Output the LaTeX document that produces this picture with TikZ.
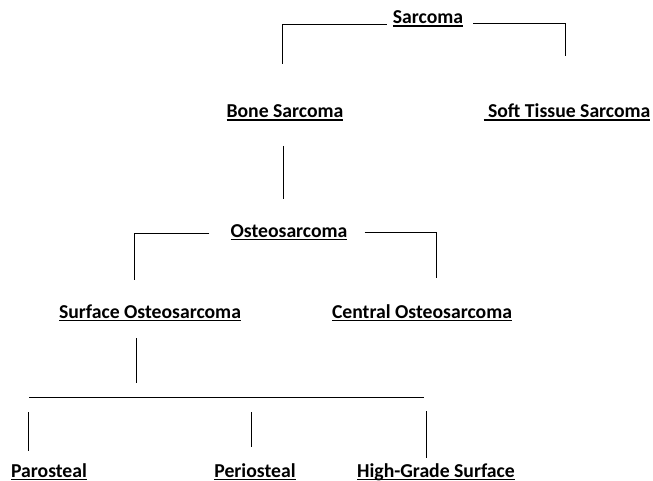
\documentclass[tikz,border=0pt]{standalone}
\usepackage{fontspec}
\setmainfont{Carlito}
\newcommand{\ulbox}[1]{\setbox0\hbox{#1}\rlap{\rule[-3pt]{\wd0}{1.5pt}}\box0}
\tikzset{
	lbl/.style={anchor=base, inner sep=0pt, font=\fontsize{19.7}{23}\selectfont\bfseries},
	link/.style={line width=0.8pt}
}
\begin{document}
\begin{tikzpicture}[x=1pt, y=-1pt]
	\useasboundingbox (0,0) rectangle (653,481);
	
	% --- labels ---
	\node[lbl] (sarc) at (428,24) {\ulbox{Sarcoma}};
	\node[lbl] (bone) at (285,118) {\ulbox{Bone Sarcoma}};
	\node[lbl] (soft) at (567,118) {\ulbox{\ Soft Tissue Sarcoma}};
	\node[lbl] (osteo) at (289,237) {\ulbox{Osteosarcoma}};
	\node[lbl] (surf) at (150,318) {\ulbox{Surface Osteosarcoma}};
	\node[lbl] (cent) at (422,318) {\ulbox{Central Osteosarcoma}};
	\node[lbl] (paro) at (49,477) {\ulbox{Parosteal}};
	\node[lbl] (peri) at (255,477) {\ulbox{Periosteal}};
	\node[lbl] (high) at (436,477) {\ulbox{High-Grade Surface}};
	
	% --- free ends of the lines ---
	\coordinate (bonetop) at (282,64);
	\coordinate (softtop) at (565,56);
	\coordinate (bonebot) at (283,146);
	\coordinate (osteotop) at (283,199);
	\coordinate (surftop) at (134,280);
	\coordinate (centtop) at (436,278);
	\coordinate (surfbot) at (136,338);
	\coordinate (barbot) at (136,383);
	\coordinate (barl) at (29,397);
	\coordinate (barr) at (424,397);
	
	% 1. Sarcoma
	\draw[link] ([xshift=-6pt]sarc.base west) -| (bonetop);
	\draw[link] ([xshift=10pt,yshift=1pt]sarc.base east) -| (softtop);
	\draw[link] (bonebot) -- (osteotop);
	
	% 2. Osteosarcoma
	\draw[link] ([xshift=-21pt,yshift=4pt]osteo.base west) -| (surftop);
	\draw[link] ([xshift=17pt,yshift=5pt]osteo.base east) -| (centtop);
	\draw[link] (surfbot) -- (barbot);
	
	% 3. Surface Osteosarcoma
	\draw[link] (barl) -- (barr);
	\foreach \x/\t/\b in {28/412/451, 251/412/447, 426/411/458} {
		\draw[link] (\x,\t) -- (\x,\b);
	}
\end{tikzpicture}
\end{document}
